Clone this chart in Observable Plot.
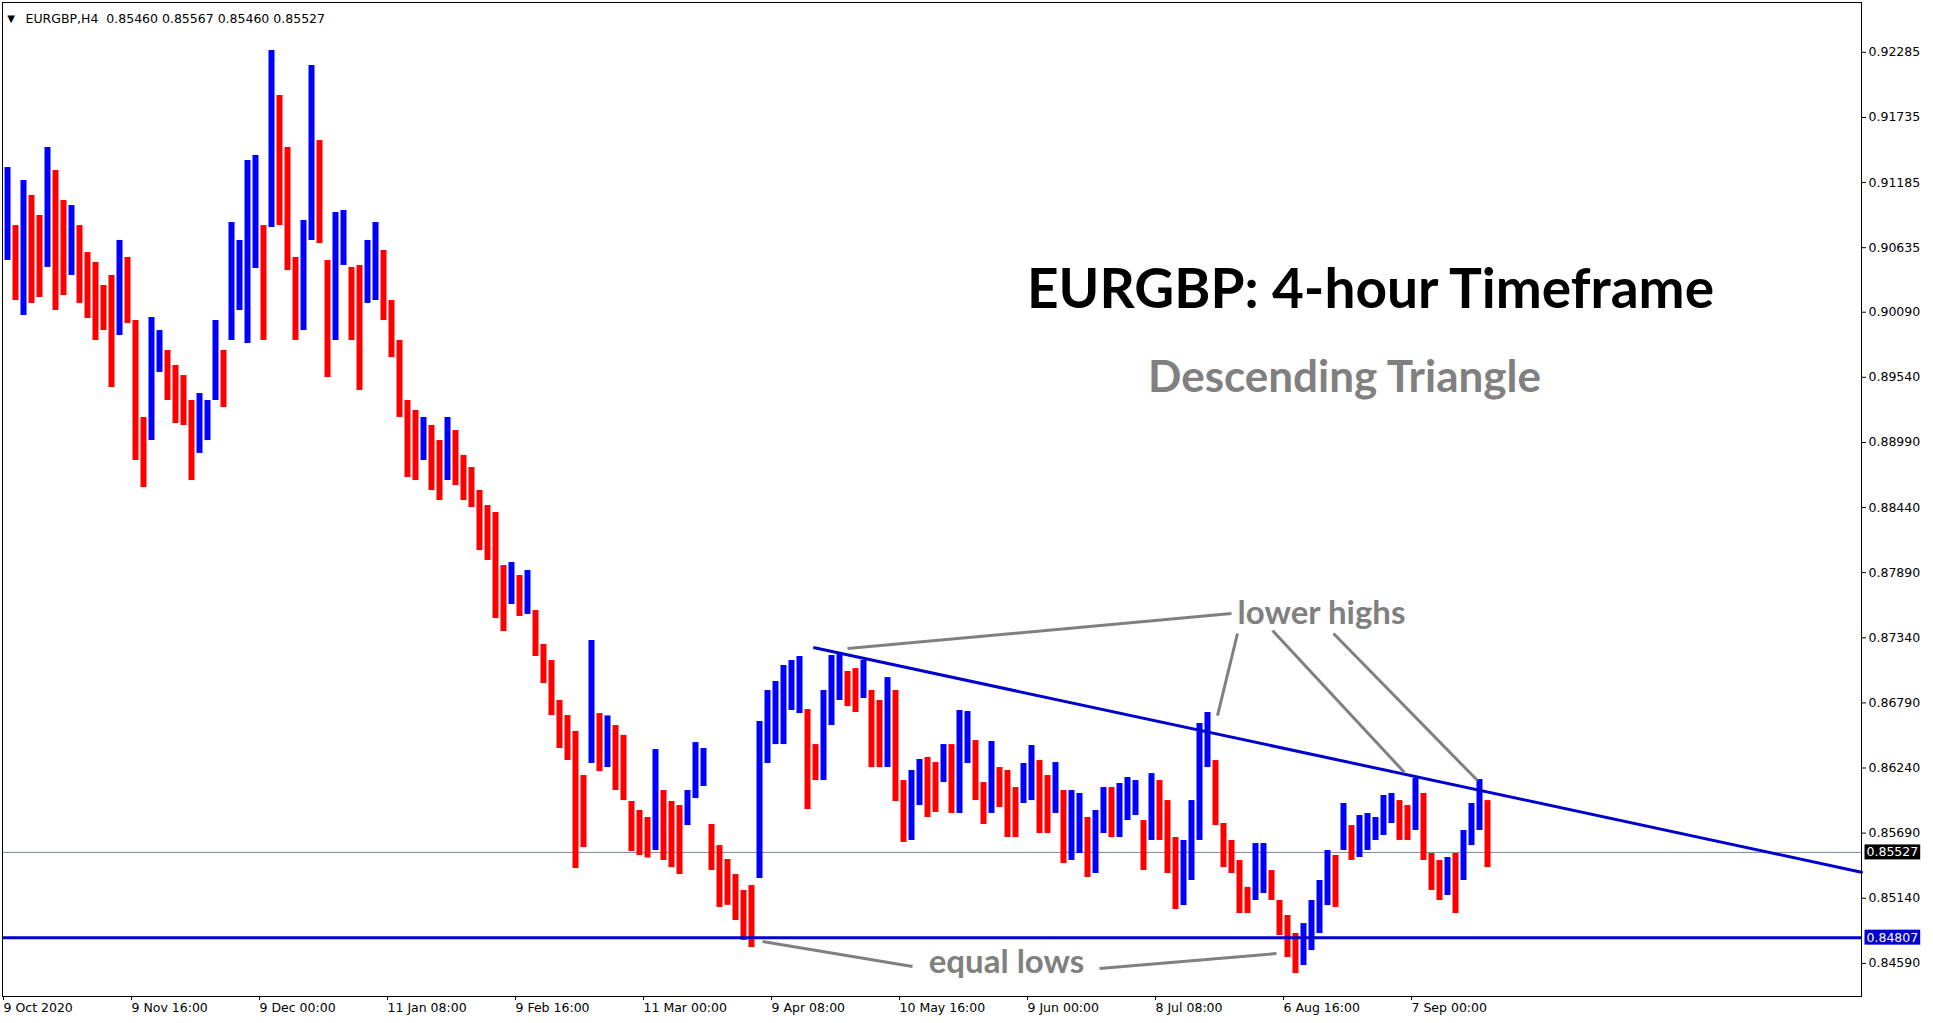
<!DOCTYPE html>
<html><head><meta charset="utf-8">
<script src="https://cdn.jsdelivr.net/npm/d3@7"></script>
<script src="https://cdn.jsdelivr.net/npm/@observablehq/plot@0.6"></script>
<style>
html,body{margin:0;padding:0;background:#fff;}
#chart{width:1933px;height:1023px;overflow:hidden;}
</style></head><body><div id="chart"></div>
<script>
// ---- data (H4 bars grouped 8 at a time) ----
const barStep = 8;
const hi = [0.91312,0.90822,0.91203,0.91076,0.90907,0.91481,0.91287,0.91034,0.90991,0.90822,
0.90594,0.90510,0.90316,0.90400,0.90696,0.90552,0.90020,0.89201,0.90045,0.89935,
0.89767,0.89640,0.89555,0.89344,0.89403,0.89344,0.90020,0.89767,0.90848,0.90696,
0.91371,0.91414,0.90822,0.92301,0.91921,0.91481,0.90552,0.90865,0.92174,0.91540,
0.90527,0.90932,0.90949,0.90468,0.90485,0.90696,0.90848,0.90611,0.90189,0.89851,
0.89344,0.89260,0.89201,0.89133,0.89006,0.89201,0.89091,0.88880,0.88778,0.88584,
0.88457,0.88398,0.87950,0.87976,0.87866,0.87908,0.87570,0.87283,0.87148,0.86810,
0.86683,0.86548,0.86177,0.87317,0.86700,0.86680,0.86599,0.86515,0.85957,0.85881,
0.85822,0.86396,0.86050,0.85957,0.85923,0.86050,0.86455,0.86405,0.85763,0.85585,
0.85467,0.85340,0.85205,0.85247,0.86633,0.86895,0.86971,0.87106,0.87148,0.87182,
0.86734,0.86438,0.86895,0.87190,0.87207,0.87055,0.87080,0.87148,0.86895,0.86810,
0.87004,0.86895,0.86134,0.86219,0.86312,0.86329,0.86286,0.86438,0.86438,0.86726,
0.86717,0.86472,0.86117,0.86464,0.86244,0.86219,0.86075,0.86278,0.86430,0.86303,
0.86177,0.86286,0.86050,0.86050,0.86025,0.85822,0.85881,0.86075,0.86075,0.86109,
0.86160,0.86134,0.85796,0.86193,0.86134,0.85965,0.85653,0.85628,0.85965,0.86616,
0.86709,0.86303,0.85771,0.85628,0.85459,0.85231,0.85602,0.85602,0.85374,0.85121,
0.84994,0.84842,0.84926,0.85121,0.85290,0.85543,0.85501,0.85940,0.85754,0.85839,
0.85856,0.85822,0.86008,0.86025,0.85965,0.85923,0.86151,0.86025,0.85518,0.85459,
0.85484,0.85518,0.85712,0.85940,0.86143,0.85965];
const lo = [0.90527,0.90189,0.90062,0.90164,0.90214,0.90468,0.90104,0.90231,0.90400,0.90164,
0.90037,0.89851,0.89935,0.89454,0.89893,0.89995,0.88837,0.88609,0.89006,0.89581,
0.89344,0.89150,0.89133,0.88668,0.88897,0.89006,0.89344,0.89285,0.89851,0.90104,
0.89826,0.90459,0.89851,0.90806,0.90822,0.90442,0.89851,0.89935,0.90696,0.90670,
0.89538,0.89851,0.90485,0.89851,0.89429,0.90164,0.90189,0.90020,0.89707,0.89201,
0.88694,0.88668,0.88837,0.88584,0.88499,0.88668,0.88626,0.88499,0.88440,0.88077,
0.87993,0.87503,0.87393,0.87621,0.87520,0.87537,0.87182,0.86954,0.86683,0.86405,
0.86303,0.85391,0.85568,0.86278,0.86210,0.86244,0.86050,0.85965,0.85535,0.85501,
0.85480,0.85543,0.85459,0.85399,0.85340,0.85754,0.85982,0.86084,0.85374,0.85062,
0.85080,0.84952,0.84783,0.84724,0.85306,0.86278,0.86438,0.86438,0.86726,0.86700,
0.85889,0.86134,0.86134,0.86599,0.86810,0.86759,0.86709,0.86827,0.86244,0.86244,
0.86244,0.85957,0.85611,0.85628,0.85923,0.85822,0.85864,0.86117,0.85856,0.85856,
0.86278,0.85965,0.85763,0.85856,0.85906,0.85653,0.85653,0.85940,0.85965,0.85687,
0.85687,0.85856,0.85433,0.85459,0.85518,0.85315,0.85349,0.85687,0.85653,0.85653,
0.85796,0.85839,0.85374,0.85628,0.85628,0.85349,0.85045,0.85078,0.85290,0.85628,
0.86244,0.85754,0.85399,0.85349,0.85011,0.85011,0.85121,0.85180,0.85121,0.84825,
0.84639,0.84504,0.84572,0.84698,0.84842,0.85078,0.85062,0.85543,0.85459,0.85484,
0.85543,0.85628,0.85670,0.85771,0.85628,0.85628,0.85712,0.85459,0.85205,0.85121,
0.85163,0.85011,0.85290,0.85585,0.85712,0.85399];

const xTickIdx = [0,128,256,384,512,640,768,896,1024,1152,1280,1408];
const xTickLabels = ["9 Oct 2020","9 Nov 16:00","9 Dec 00:00","11 Jan 08:00","9 Feb 16:00","11 Mar 00:00",
  "9 Apr 08:00","10 May 16:00","9 Jun 00:00","8 Jul 08:00","6 Aug 16:00","7 Sep 00:00"];
const yTicks = [0.92285,0.91735,0.91185,0.90635,0.90090,0.89540,0.88990,0.88440,0.87890,0.87340,
  0.86790,0.86240,0.85690,0.85140,0.84590];

const symbol = "EURGBP", timeframe = "H4";
const ohlc = [0.85460, 0.85567, 0.85460, 0.85527];
const lastPrice = 0.85527;
const supportPrice = 0.84807;

// descending trendline (bar index, price)
const trendIdx = [811, 1858];
const trendPrice = [0.87256, 0.85360];

// annotation texts (bar index, price of the text centre)
const noteText  = ["EURGBP: 4-hour Timeframe", "Descending Triangle", "lower highs", "equal lows"];
const noteIdx   = [1367, 1341, 1318, 1003];
const notePrice = [0.90273, 0.89538, 0.87545, 0.84597];
const noteSize  = [55, 44, 33, 33];
const noteColor = ["#000000", "#808080", "#808080", "#808080"];

// grey pointer lines: [idx1, price1, idx2, price2]
const pointers = [
  [844, 0.87249, 1228, 0.87545],
  [1234, 0.87376, 1214, 0.86683],
  [1269, 0.87401, 1401, 0.86202],
  [1330, 0.87376, 1474, 0.86134],
  [759, 0.84774, 909, 0.84563],
  [1096, 0.84546, 1273, 0.84673]
];

// ---- build tables ----
const bars = hi.map((h, k) => ({
  i: barStep * k + barStep / 2,
  hi: h, lo: lo[k],
  up: k === 0 ? true : (h + lo[k]) >= (hi[k - 1] + lo[k - 1])
}));
const trend = trendIdx.map((i, k) => ({i, p: trendPrice[k]}));
const notes = noteText.map((t, k) => ({t, i: noteIdx[k], p: notePrice[k], s: noteSize[k], c: noteColor[k]}));
const links = pointers.map(([i1, p1, i2, p2]) => ({i1, p1, i2, p2}));
const header = `${symbol},${timeframe}\u00a0 ${ohlc.map(d => d.toFixed(5)).join(" ")}`;

const blue = "#0000ff", red = "#ff0000", lineBlue = "#0000cd";

const chart = Plot.plot({
  width: 1933, height: 1023,
  marginLeft: 2, marginRight: 72, marginTop: 2, marginBottom: 27,
  x: {domain: [-1, 1858], axis: null},
  y: {domain: [0.84310, 0.92706], axis: null},
  color: {type: "identity"},
  style: {fontFamily: "DejaVu Sans", fontSize: "12.5px", background: "white", color: "black"},
  marks: [
    Plot.ruleY([lastPrice], {stroke: "#778899", strokeWidth: 1}),
    Plot.ruleX(bars, {x: "i", y1: "lo", y2: "hi", stroke: d => d.up ? blue : red, strokeWidth: 6}),
    Plot.line(trend, {x: "i", y: "p", stroke: lineBlue, strokeWidth: 3}),
    Plot.ruleY([supportPrice], {stroke: lineBlue, strokeWidth: 3}),
    Plot.link(links, {x1: "i1", y1: "p1", x2: "i2", y2: "p2", stroke: "#808080", strokeWidth: 3}),
    Plot.text(notes, {x: "i", y: "p", text: "t", fontSize: d => d.s, fill: "c",
      fontWeight: "bold", fontFamily: "Lato", textAnchor: "middle"}),
    Plot.frame({stroke: "black", strokeWidth: 1}),
    Plot.axisY({anchor: "right", ticks: yTicks, tickFormat: d3.format(".5f"), tickSize: 4, tickPadding: 3, fontSize: 12.5}),
    Plot.axisX({ticks: xTickIdx, tickFormat: d => xTickLabels[xTickIdx.indexOf(d)], tickSize: 4, tickPadding: 3,
      textAnchor: "start", fontSize: 12.5}),
    Plot.text([lastPrice], {y: d => d, frameAnchor: "right", dx: 5, textAnchor: "start", text: d => d.toFixed(5),
      fill: "white", fontSize: 12.5}),
    Plot.text([supportPrice], {y: d => d, frameAnchor: "right", dx: 5, textAnchor: "start", text: d => d.toFixed(5),
      fill: "white", fontSize: 12.5}),
    Plot.text(["\u25BC"], {frameAnchor: "top-left", dx: 8.5, dy: 12, textAnchor: "middle", fontSize: 10}),
    Plot.text([header], {frameAnchor: "top-left", dx: 23, dy: 12, textAnchor: "start", fontSize: 12.5})
  ]
});
document.getElementById("chart").appendChild(chart);

// background boxes behind the price tags
const tagColors = new Map([[lastPrice.toFixed(5), "#000000"], [supportPrice.toFixed(5), lineBlue]]);
d3.select(chart).selectAll("text").filter(function () {
  return tagColors.has(this.textContent) && this.childElementCount === 0;
}).each(function () {
  const b = this.getBBox();
  const tf = this.getAttribute("transform");
  const r = d3.select(this.parentNode).insert("rect", () => this)
    .attr("x", b.x - 2).attr("y", b.y).attr("width", b.width + 4).attr("height", b.height)
    .attr("fill", tagColors.get(this.textContent));
  if (tf) r.attr("transform", tf);
});
</script>
</body></html>
